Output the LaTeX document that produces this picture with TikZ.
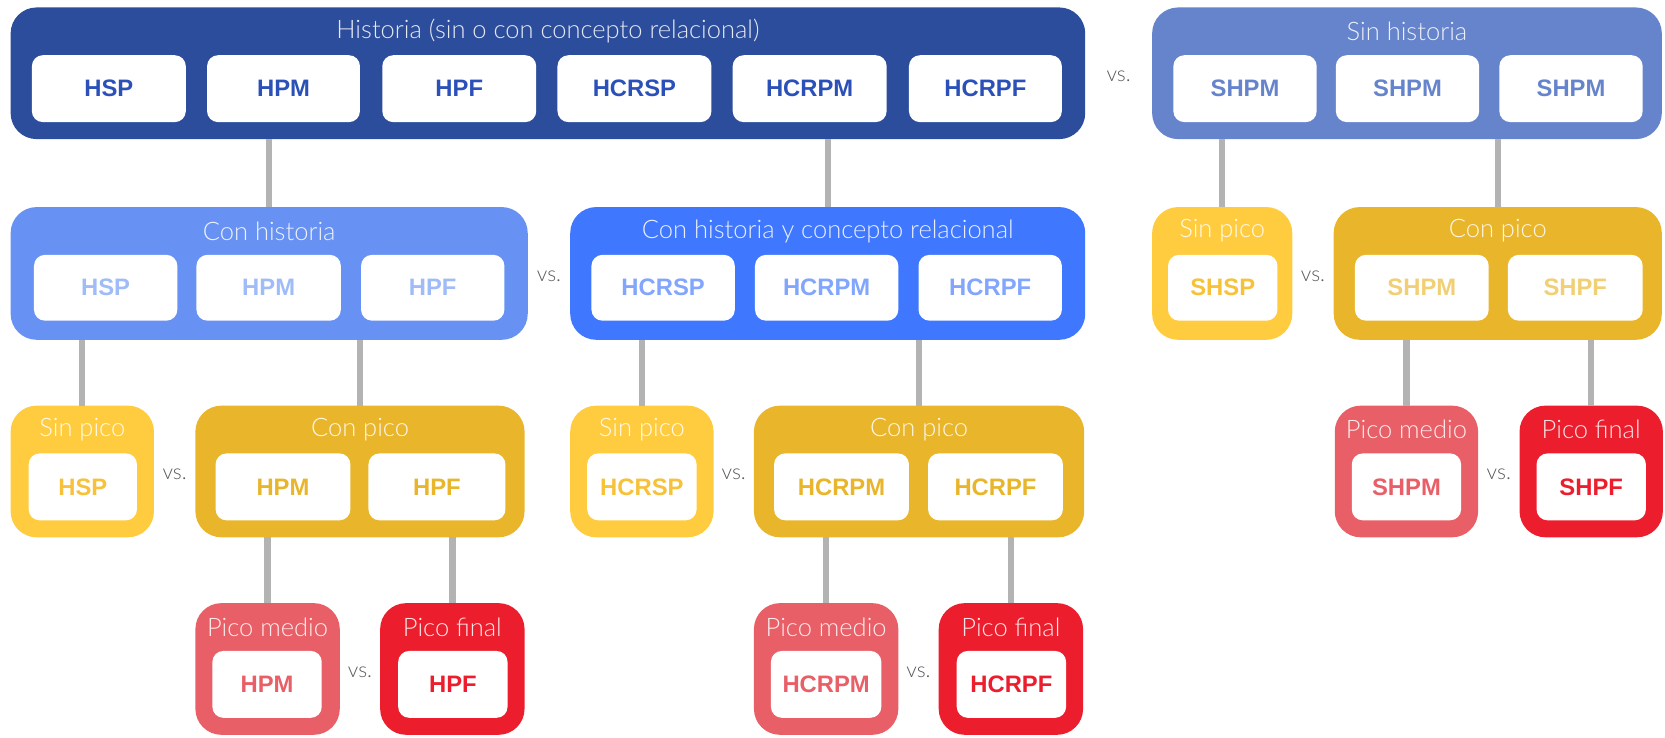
\documentclass[tikz,border=0pt]{standalone}
\usepackage{fontspec}
\setmainfont{Liberation Sans}
\IfFontExistsTF{Lato Light}{\newfontfamily\lightfont{Lato Light}}{\newfontfamily\lightfont{Lato}}
\usetikzlibrary{fit}
\definecolor{cA}{HTML}{2C4D9B}
\definecolor{tA}{HTML}{2B50B8}
\definecolor{cB}{HTML}{6684CC}
\definecolor{cC}{HTML}{6792F3}
\definecolor{tC}{HTML}{A0BCF8}
\definecolor{cD}{HTML}{3F78FE}
\definecolor{tD}{HTML}{82A5FD}
\definecolor{ysp}{HTML}{FFCC40}
\definecolor{tysp}{HTML}{F7C23A}
\definecolor{ycp}{HTML}{E9B52A}
\definecolor{tycp2}{HTML}{F1CF74}
\definecolor{pm}{HTML}{E95F67}
\definecolor{pf}{HTML}{EC1E2D}
\definecolor{vsgray}{HTML}{5A5A5A}
\definecolor{conngray}{HTML}{B3B3B3}
% inner white box: name, x1, x2, y1, y2, colour, text
\newcommand\ibx[7]{\node[inbox, text=#6, minimum width={(#3-#2)*1.0619pt}, minimum height={(#5-#4)*1.0619pt}] (#1) at ({(#2+#3)/2},{(#4+#5)/2}) {#7};}
\begin{document}
\begin{tikzpicture}[x=1.0619pt,y=-1.0619pt,
  outer/.style={rounded corners=26pt, inner sep=0pt, outer sep=0pt},
  inbox/.style={fill=white, rounded corners=11pt, inner sep=0pt, outer sep=0pt, font=\bfseries\fontsize{23.8}{24}\selectfont},
  ttl/.style={font=\lightfont\fontsize{25.5}{26}\selectfont, text=white, text opacity=0.88, inner sep=0pt},
  vs/.style={font=\lightfont\fontsize{21}{21}\selectfont, text=vsgray, inner sep=0pt, yshift=-3pt},
  conn/.style={draw=conngray, line width=6.4pt}]
\useasboundingbox (0,0) rectangle (1568,695);
% ---------- row 1
\node[outer, fill=cA, fit={(10,7)(1022,131)}] (H) {};
\node[ttl] (Ht) at ([yshift=-24pt]H.north) {Historia (sin o con concepto relacional)};
\ibx{H1}{30}{175}{52}{115}{tA}{HSP}
\ibx{H2}{195}{339}{52}{115}{tA}{HPM}
\ibx{H3}{360}{505}{52}{115}{tA}{HPF}
\ibx{H4}{525}{670}{52}{115}{tA}{HCRSP}
\ibx{H5}{690}{835}{52}{115}{tA}{HCRPM}
\ibx{H6}{856}{1000}{52}{115}{tA}{HCRPF}
\node[outer, fill=cB, fit={(1085,7)(1565,131)}] (S) {};
\node[ttl] (St) at ([yshift=-24pt]S.north) {Sin historia};
\ibx{S1}{1105}{1240}{52}{115}{cB}{SHPM}
\ibx{S2}{1258}{1393}{52}{115}{cB}{SHPM}
\ibx{S3}{1412}{1547}{52}{115}{cB}{SHPM}
\path (H.east) -- (S.west) node[vs, midway] (v1) {vs.};
% ---------- row 2
\node[outer, fill=cC, fit={(10,195)(497,320)}] (CH) {};
\node[ttl] (CHt) at ([yshift=-24pt]CH.north) {Con historia};
\ibx{CH1}{32}{167}{240}{302}{tC}{HSP}
\ibx{CH2}{185}{321}{240}{302}{tC}{HPM}
\ibx{CH3}{340}{475}{240}{302}{tC}{HPF}
\node[outer, fill=cD, fit={(537,195)(1022,320)}] (CR) {};
\node[ttl] (CRt) at ([yshift=-24pt]CR.north) {Con historia y concepto relacional};
\ibx{CR1}{557}{692}{240}{302}{tD}{HCRSP}
\ibx{CR2}{711}{846}{240}{302}{tD}{HCRPM}
\ibx{CR3}{865}{1000}{240}{302}{tD}{HCRPF}
\path (CH.east) -- (CR.west) node[vs, midway] (v2) {vs.};
\node[outer, fill=ysp, fit={(1085,195)(1217,320)}] (SSP) {};
\node[ttl] (SSPt) at ([yshift=-24pt]SSP.north) {Sin pico};
\ibx{SSP1}{1100}{1203}{240}{302}{tysp}{SHSP}
\node[outer, fill=ycp, fit={(1256,195)(1565,320)}] (SCP) {};
\node[ttl] (SCPt) at ([yshift=-24pt]SCP.north) {Con pico};
\ibx{SCP1}{1276}{1402}{240}{302}{tycp2}{SHPM}
\ibx{SCP2}{1420}{1547}{240}{302}{tycp2}{SHPF}
\path (SSP.east) -- (SCP.west) node[vs, midway] (v3) {vs.};
% ---------- row 3
\node[outer, fill=ysp, fit={(10,382)(145,506)}] (ASP) {};
\node[ttl] (ASPt) at ([yshift=-24pt]ASP.north) {Sin pico};
\ibx{ASP1}{27}{129}{427}{490}{tysp}{HSP}
\node[outer, fill=ycp, fit={(184,382)(494,506)}] (ACP) {};
\node[ttl] (ACPt) at ([yshift=-24pt]ACP.north) {Con pico};
\ibx{ACP1}{203}{330}{427}{490}{ycp}{HPM}
\ibx{ACP2}{347}{476}{427}{490}{ycp}{HPF}
\path (ASP.east) -- (ACP.west) node[vs, midway] (v4) {vs.};
\node[outer, fill=ysp, fit={(537,382)(672,506)}] (BSP) {};
\node[ttl] (BSPt) at ([yshift=-24pt]BSP.north) {Sin pico};
\ibx{BSP1}{553}{656}{427}{490}{tysp}{HCRSP}
\node[outer, fill=ycp, fit={(710,382)(1021,506)}] (BCP) {};
\node[ttl] (BCPt) at ([yshift=-24pt]BCP.north) {Con pico};
\ibx{BCP1}{729}{856}{427}{490}{ycp}{HCRPM}
\ibx{BCP2}{874}{1001}{427}{490}{ycp}{HCRPF}
\path (BSP.east) -- (BCP.west) node[vs, midway] (v5) {vs.};
\node[outer, fill=pm, fit={(1257,382)(1392,506)}] (SPM) {};
\node[ttl] (SPMt) at ([yshift=-24pt]SPM.north) {Pico medio};
\ibx{SPM1}{1273}{1376}{427}{490}{pm}{SHPM}
\node[outer, fill=pf, fit={(1431,382)(1566,506)}] (SPF) {};
\node[ttl] (SPFt) at ([yshift=-24pt]SPF.north) {Pico final};
\ibx{SPF1}{1447}{1550}{427}{490}{pf}{SHPF}
\path (SPM.east) -- (SPF.west) node[vs, midway] (v6) {vs.};
% ---------- row 4
\node[outer, fill=pm, fit={(184,568)(320,692)}] (APM) {};
\node[ttl] (APMt) at ([yshift=-24pt]APM.north) {Pico medio};
\ibx{APM1}{200}{303}{613}{676}{pm}{HPM}
\node[outer, fill=pf, fit={(358,568)(494,692)}] (APF) {};
\node[ttl] (APFt) at ([yshift=-24pt]APF.north) {Pico final};
\ibx{APF1}{375}{478}{613}{676}{pf}{HPF}
\path (APM.east) -- (APF.west) node[vs, midway] (v7) {vs.};
\node[outer, fill=pm, fit={(710,568)(846,692)}] (BPM) {};
\node[ttl] (BPMt) at ([yshift=-24pt]BPM.north) {Pico medio};
\ibx{BPM1}{726}{830}{613}{676}{pm}{HCRPM}
\node[outer, fill=pf, fit={(884,568)(1020,692)}] (BPF) {};
\node[ttl] (BPFt) at ([yshift=-24pt]BPF.north) {Pico final};
\ibx{BPF1}{901}{1004}{613}{676}{pf}{HCRPF}
\path (BPM.east) -- (BPF.west) node[vs, midway] (v8) {vs.};
% ---------- connectors
\draw[conn] (H.south -| CH.north) -- (CH.north);
\draw[conn] (H.south -| CR.north) -- (CR.north);
\draw[conn] (S.south -| SSP.north) -- (SSP.north);
\draw[conn] (S.south -| SCP.north) -- (SCP.north);
\draw[conn] (CH.south -| ASP.north) -- (ASP.north);
\draw[conn] (CH.south -| ACP.north) -- (ACP.north);
\draw[conn] (CR.south -| BSP.north) -- (BSP.north);
\draw[conn] (CR.south -| BCP.north) -- (BCP.north);
\draw[conn] (SCP.south -| SPM.north) -- (SPM.north);
\draw[conn] (SCP.south -| SPF.north) -- (SPF.north);
\draw[conn] (ACP.south -| APM.north) -- (APM.north);
\draw[conn] (ACP.south -| APF.north) -- (APF.north);
\draw[conn] (BCP.south -| BPM.north) -- (BPM.north);
\draw[conn] (BCP.south -| BPF.north) -- (BPF.north);
\end{tikzpicture}
\end{document}
